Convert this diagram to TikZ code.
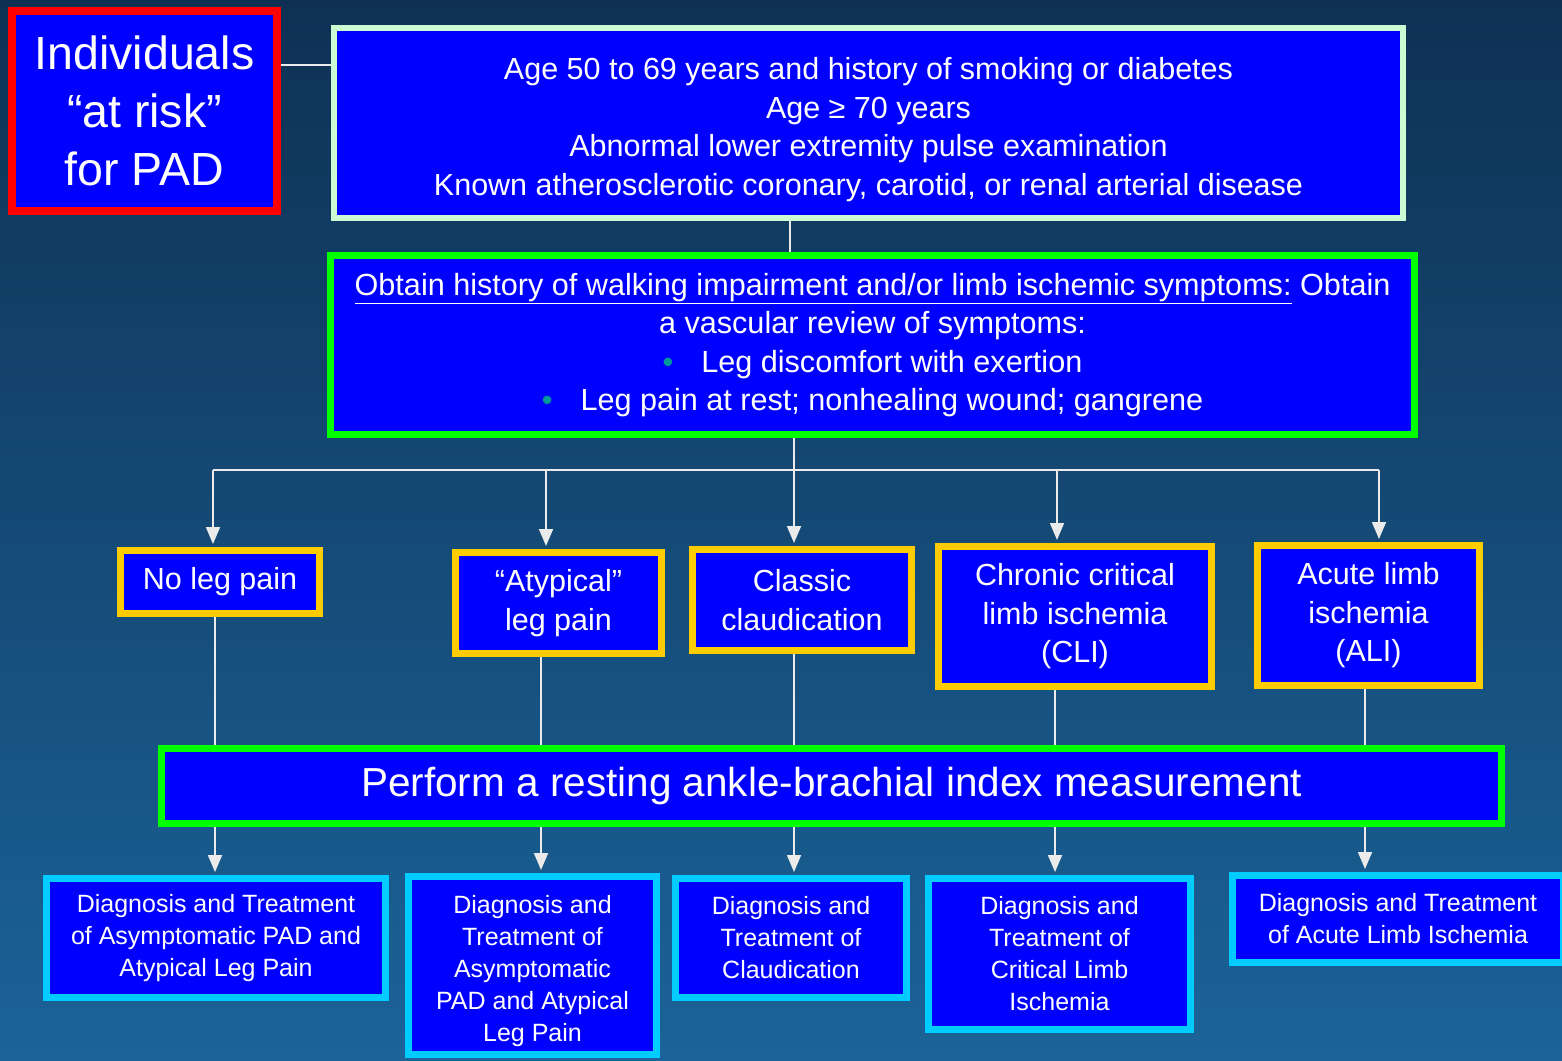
\documentclass[tikz,border=0pt]{standalone}
\usepackage{fontspec}
\setmainfont{Liberation Sans}
\usetikzlibrary{arrows.meta}
\definecolor{bgtop}{RGB}{14,49,83}
\definecolor{bgbot}{RGB}{27,99,153}
\definecolor{boxblue}{RGB}{0,0,255}
\definecolor{riskred}{RGB}{255,0,0}
\definecolor{mint}{RGB}{204,250,210}
\definecolor{lime}{RGB}{0,255,0}
\definecolor{gold}{RGB}{255,204,0}
\definecolor{skyc}{RGB}{0,204,255}
\definecolor{dotteal}{RGB}{0,153,153}
\definecolor{wire}{RGB}{235,235,235}
\tikzset{
  pbox/.style={draw,fill=boxblue,text=white,align=center,inner sep=0pt},
  link/.style={draw=wire,line width=1.8pt},
  arr/.style={link,-{Triangle[width=14pt,length=17pt]},shorten >=3pt}
}
\begin{document}
\begin{tikzpicture}[x=1pt,y=-1pt]
	% background
	\shade[top color=bgtop,bottom color=bgbot] (0,0) rectangle (1562,1060);
	\useasboundingbox (0,0) rectangle (1562,1060);
	%% top row
	\node[pbox,draw=riskred,line width=8pt,minimum width=265pt,minimum height=200pt,
	font=\fontsize{46.5}{58}\selectfont] (indiv) at (144.5,111) {Individuals\\“at risk”\\for PAD};
	\node[pbox,draw=mint,line width=6pt,minimum width=1069pt,minimum height=190pt,
	font=\fontsize{30.5}{38.5}\selectfont] (risk) at (868.5,123)
	{\rule{0pt}{35pt}Age 50 to 69 years and history of smoking or diabetes\\Age ≥ 70 years\\Abnormal lower extremity pulse examination\\Known atherosclerotic coronary, carotid, or renal arterial disease};
	\node[pbox,draw=lime,line width=7pt,minimum width=1084pt,minimum height=179pt,
	font=\fontsize{30.6}{38.5}\selectfont] (obtain) at (872.5,345)
	{\underline{Obtain history of walking impairment and/or limb ischemic symptoms:} Obtain\\a vascular review of symptoms:\\
	\textcolor{dotteal}{\textbullet}\hspace{28pt}Leg discomfort with exertion\\
	\textcolor{dotteal}{\textbullet}\hspace{28pt}Leg pain at rest; nonhealing wound; gangrene};
	%% symptom boxes
	\tikzset{sym/.style={pbox,draw=gold,line width=7pt,font=\fontsize{30.5}{38.5}\selectfont}}
	\node[sym,minimum width=199pt,minimum height=63pt] (noleg) at (220,582) {No leg pain};
	\node[sym,minimum width=206pt,minimum height=101pt] (atyp) at (558.5,603) {“Atypical”\\leg pain};
	\node[sym,minimum width=219pt,minimum height=101pt] (classic) at (802,600) {Classic\\claudication};
	\node[sym,minimum width=273pt,minimum height=140pt] (cli) at (1075,616.5) {Chronic critical\\limb ischemia\\(CLI)};
	\node[sym,minimum width=222pt,minimum height=140pt] (ali) at (1368.5,615.5) {Acute limb\\ischemia\\(ALI)};
	%% ABI box
	\node[pbox,draw=lime,line width=7pt,minimum width=1340pt,minimum height=75pt,
	font=\fontsize{40.5}{48}\selectfont] (abi) at (831.5,786) {Perform a resting ankle-brachial index measurement};
	%% treatment boxes
	\tikzset{care/.style={pbox,draw=skyc,line width=7pt,font=\fontsize{25}{32}\selectfont}}
	\node[care,minimum width=339pt,minimum height=119pt] (dx1) at (216,938) {Diagnosis and Treatment\\of Asymptomatic PAD and\\Atypical Leg Pain};
	\node[care,minimum width=248pt,minimum height=178pt] (dx2) at (532.5,965.5) {\rule{0pt}{28.5pt}Diagnosis and\\Treatment of\\Asymptomatic\\PAD and Atypical\\Leg Pain};
	\node[care,minimum width=231pt,minimum height=119pt] (dx3) at (791,938) {Diagnosis and\\Treatment of\\Claudication};
	\node[care,minimum width=262pt,minimum height=151pt] (dx4) at (1059.5,954) {Diagnosis and\\Treatment of\\Critical Limb\\Ischemia};
	\node[care,minimum width=331pt,minimum height=87pt] (dx5) at (1398,919) {Diagnosis and Treatment\\of Acute Limb Ischemia};
	%% connectors
	\draw[link] (indiv.east |- 0,65) -- (risk.west |- 0,65);
	\draw[link] (risk.south -| 790,0) -- (obtain.north -| 790,0);
	\coordinate (busL) at (213,470);
	\coordinate (busR) at (1379,470);
	\draw[link] (busL) -- (busR);
	\draw[arr] (obtain.south -| 794,0) -- (classic.north -| 794,0);
	\draw[arr] (busL) -- (noleg.north -| busL);
	\draw[arr] (546,470) -- (atyp.north -| 546,0);
	\draw[arr] (1057,470) -- (cli.north -| 1057,0);
	\draw[arr] (busR) -- (ali.north -| busR);
	\foreach \up/\down/\x in {noleg/dx1/215,atyp/dx2/541,classic/dx3/794,cli/dx4/1055,ali/dx5/1365}{
		\draw[link] (\up.south -| \x,0) -- (abi.north -| \x,0);
		\draw[arr] (abi.south -| \x,0) -- (\down.north -| \x,0);
	}
\end{tikzpicture}
\end{document}
